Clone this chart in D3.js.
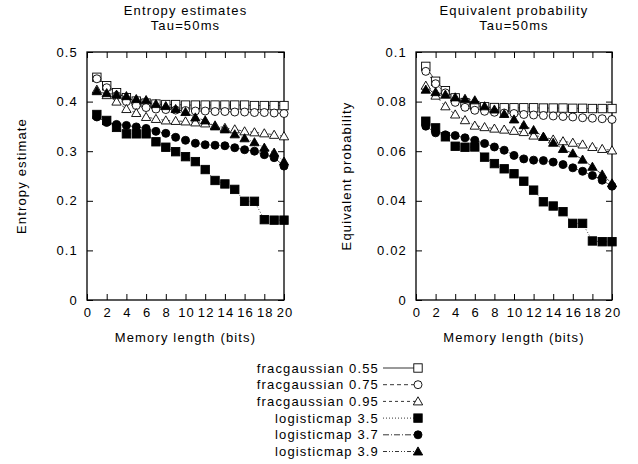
<!DOCTYPE html>
<html><head><meta charset="utf-8">
<script src="https://cdn.jsdelivr.net/npm/d3@7/dist/d3.min.js"></script>
<style>
body{margin:0;background:#fff;}
text{font-family:"Liberation Sans",Arial,sans-serif;font-size:13px;fill:#000;letter-spacing:1.15px;}
</style></head><body>
<svg id="c" width="638" height="464"></svg>
<script>
const memoryLength = d3.range(1, 21);
const xTicks = [0,2,4,6,8,10,12,14,16,18,20];
const yTicksEntropy = [0,0.1,0.2,0.3,0.4,0.5];
const yTicksProb = [0,0.02,0.04,0.06,0.08,0.1];
const seriesNames = ["fracgaussian 0.55","fracgaussian 0.75","fracgaussian 0.95","logisticmap 3.5","logisticmap 3.7","logisticmap 3.9"];

// Entropy estimates (left)
const entFg055 = [0.449,0.432,0.418,0.408,0.401,0.397,0.395,0.394,0.394,0.393,0.393,0.393,0.393,0.393,0.393,0.393,0.392,0.392,0.392,0.392];
const entFg075 = [0.446,0.428,0.412,0.400,0.392,0.388,0.385,0.384,0.383,0.382,0.381,0.381,0.380,0.380,0.379,0.379,0.378,0.378,0.377,0.376];
const entFg095 = [0.424,0.413,0.400,0.385,0.377,0.369,0.365,0.362,0.361,0.360,0.358,0.356,0.352,0.347,0.344,0.340,0.338,0.336,0.333,0.330];
const entLm35  = [0.374,0.362,0.348,0.335,0.335,0.335,0.319,0.308,0.299,0.289,0.279,0.263,0.241,0.234,0.223,0.199,0.199,0.162,0.161,0.161];
const entLm37  = [0.369,0.358,0.354,0.352,0.349,0.346,0.340,0.336,0.328,0.322,0.316,0.313,0.312,0.311,0.307,0.303,0.300,0.293,0.287,0.270];
const entLm39  = [0.421,0.417,0.414,0.411,0.405,0.403,0.395,0.391,0.385,0.379,0.368,0.362,0.350,0.344,0.334,0.326,0.318,0.307,0.297,0.279];

// Equivalent probability (right)
const prFg055 = [0.0942,0.0882,0.0844,0.0815,0.0795,0.0784,0.0779,0.0776,0.0775,0.0775,0.0775,0.0775,0.0774,0.0774,0.0774,0.0773,0.0773,0.0772,0.0772,0.0772];
const prFg075 = [0.0922,0.0872,0.0835,0.0797,0.0777,0.0765,0.0761,0.0757,0.0754,0.0752,0.0748,0.0746,0.0744,0.0742,0.0740,0.0738,0.0735,0.0733,0.0731,0.0728];
const prFg095 = [0.0864,0.0824,0.0781,0.0748,0.0725,0.0703,0.0697,0.0691,0.0687,0.0682,0.0677,0.0663,0.0658,0.0647,0.0640,0.0634,0.0627,0.0617,0.0609,0.0603];
const prLm35  = [0.0721,0.0694,0.0658,0.0620,0.0616,0.0617,0.0576,0.0550,0.0529,0.0509,0.0479,0.0443,0.0396,0.0379,0.0356,0.0309,0.0309,0.0238,0.0235,0.0235];
const prLm37  = [0.0701,0.0674,0.0666,0.0663,0.0654,0.0644,0.0631,0.0617,0.0604,0.0583,0.0569,0.0564,0.0562,0.0556,0.0546,0.0533,0.0519,0.0502,0.0483,0.0459];
const prLm39  = [0.0848,0.0838,0.0828,0.0817,0.0811,0.0805,0.0781,0.0768,0.0750,0.0728,0.0705,0.0685,0.0658,0.0634,0.0609,0.0591,0.0566,0.0537,0.0506,0.0470];

const entSeries = [entFg055,entFg075,entFg095,entLm35,entLm37,entLm39];
const prSeries = [prFg055,prFg075,prFg095,prLm35,prLm37,prLm39];

const styles = [
  {dash:null, marker:"square", fill:"#fff"},
  {dash:"4,3", marker:"circle", fill:"#fff"},
  {dash:"3,3", marker:"triangle", fill:"#fff"},
  {dash:"1,2", marker:"square", fill:"#000"},
  {dash:"6,2,1,2", marker:"circle", fill:"#000"},
  {dash:"4,2,1,2,1,2", marker:"triangle", fill:"#000"}
];

const svg = d3.select("#c");

function drawMarker(g, type, fill, x, y){
  if(type==="square"){
    g.append("rect").attr("x",x-4.2).attr("y",y-4.2).attr("width",8.4).attr("height",8.4)
     .attr("fill",fill).attr("stroke","#000").attr("stroke-width",0.9);
  } else if(type==="circle"){
    g.append("circle").attr("cx",x).attr("cy",y).attr("r",4)
     .attr("fill",fill).attr("stroke","#000").attr("stroke-width",0.9);
  } else {
    const s=d3.symbol().type(d3.symbolTriangle).size(38);
    g.append("path").attr("d",s()).attr("transform",`translate(${x},${y+0.8})`)
     .attr("fill",fill).attr("stroke","#000").attr("stroke-width",0.9);
  }
}

function panel(left, top, w, h, yMax, yTicks, series, title, yLabel, labelOff){
  const g = svg.append("g").attr("transform",`translate(${left},${top})`);
  const x = d3.scaleLinear().domain([0,20]).range([0,w]);
  const y = d3.scaleLinear().domain([0,yMax]).range([h,0]);
  const fmt = d => String(d);

  const axB = g.append("g").attr("transform",`translate(0,${h})`)
    .call(d3.axisBottom(x).tickValues(xTicks).tickSizeInner(-6).tickSizeOuter(0).tickPadding(8).tickFormat(fmt));
  const axT = g.append("g")
    .call(d3.axisTop(x).tickValues(xTicks).tickSizeInner(-6).tickSizeOuter(0).tickFormat(""));
  const axL = g.append("g")
    .call(d3.axisLeft(y).tickValues(yTicks).tickSizeInner(-6).tickSizeOuter(0).tickPadding(9).tickFormat(fmt));
  const axR = g.append("g").attr("transform",`translate(${w},0)`)
    .call(d3.axisRight(y).tickValues(yTicks).tickSizeInner(-6).tickSizeOuter(0).tickFormat(""));
  [axB,axT,axL,axR].forEach(a=>{
    a.select(".domain").remove();
    a.selectAll("line").attr("stroke","#000").attr("stroke-width",1);
    a.selectAll("text").attr("font-family","Liberation Sans, Arial, sans-serif").attr("font-size",13).attr("fill","#000");
  });
  axB.selectAll("text").attr("dx","0.5px");
  g.append("rect").attr("x",0).attr("y",0).attr("width",w).attr("height",h)
    .attr("fill","none").attr("stroke","#000").attr("stroke-width",1.3);

  const line = d3.line().x((d,i)=>x(memoryLength[i])).y(d=>y(d));
  series.forEach((s,k)=>{
    const st = styles[k];
    g.append("path").datum(s).attr("d",line).attr("fill","none")
      .attr("stroke","#000").attr("stroke-width",0.7)
      .attr("stroke-dasharray",st.dash);
  });
  series.forEach((s,k)=>{
    const st = styles[k];
    const mg = g.append("g");
    s.forEach((v,i)=>drawMarker(mg, st.marker, st.fill, x(memoryLength[i]), y(v)));
  });

  const tl = title.split("\n");
  tl.forEach((t,i)=>g.append("text").attr("x",w/2).attr("y",-37.5+i*15)
    .attr("text-anchor","middle").text(t));
  g.append("text").attr("x",w/2).attr("y",h+42).attr("text-anchor","middle").text("Memory length (bits)");
  g.append("text").attr("transform",`translate(${-labelOff},${h/2}) rotate(-90)`)
    .attr("text-anchor","middle").text(yLabel);
}

panel(87,52,197,248,0.5,yTicksEntropy,entSeries,"Entropy estimates\nTau=50ms","Entropy estimate",61.5);
panel(416,52,196,248,0.1,yTicksProb,prSeries,"Equivalent probability\nTau=50ms","Equivalent probability",65);

// legend
const lg = svg.append("g");
seriesNames.forEach((name,k)=>{
  const yy = 368 + k*16.7;
  const st = styles[k];
  lg.append("text").attr("x",379).attr("y",yy).attr("dy","0.35em").attr("text-anchor","end").text(name);
  lg.append("line").attr("x1",383).attr("x2",418).attr("y1",yy).attr("y2",yy)
    .attr("stroke","#000").attr("stroke-width",0.8).attr("stroke-dasharray",st.dash);
  drawMarker(lg, st.marker, st.fill, 418, yy);
});
</script>
</body></html>
